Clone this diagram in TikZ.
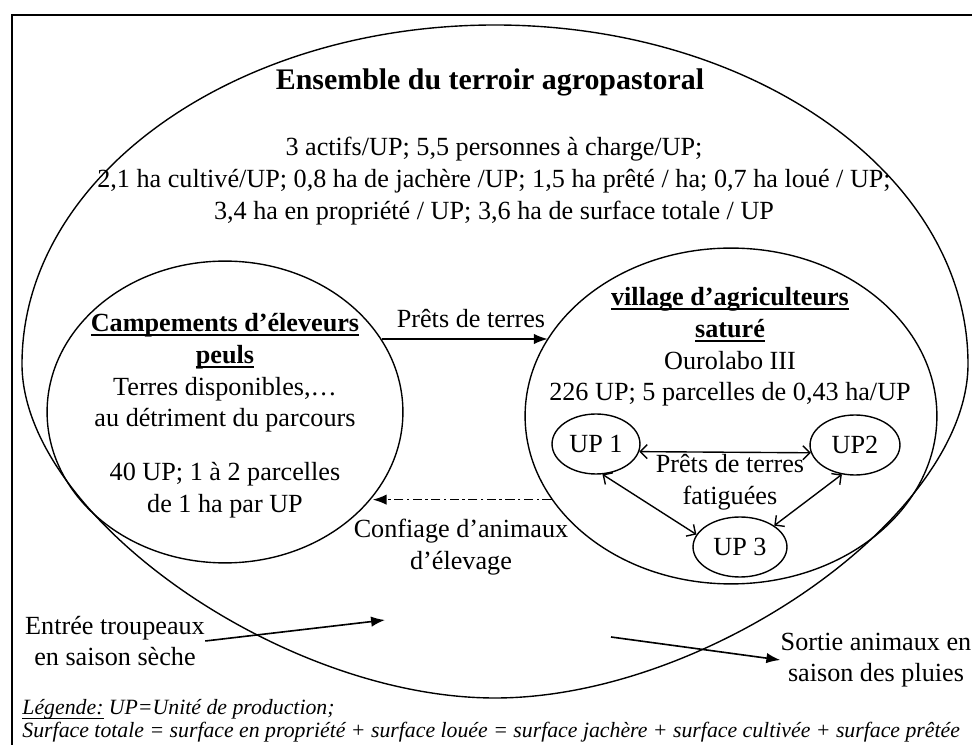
\documentclass[tikz,border=0pt]{standalone}
\usepackage{fontspec}
\setmainfont{Liberation Serif}
\usetikzlibrary{arrows.meta,shapes.geometric}
\newcommand{\souligne}[1]{\setbox0\hbox{#1}\rlap{\rule[-1.9pt]{\wd0}{0.7pt}}\box0\relax}

\tikzset{
  zone/.style={draw, ellipse, inner sep=0pt, line width=0.6pt},
  unite/.style={draw, ellipse, inner sep=0pt, minimum height=0.91cm, line width=0.6pt, font=\fontsize{11.3}{13.7}\selectfont},
  txt/.style={align=center, inner sep=0pt, font=\fontsize{11.3}{13.7}\selectfont},
  flux/.style={-{Latex[length=6pt,width=4.5pt]}, line width=0.7pt},
  pret/.style={{Straight Barb[length=3pt,width=6pt]}-{Straight Barb[length=3pt,width=6pt]}, line width=0.6pt},
}

\begin{document}
\begin{tikzpicture}[x=0.01516cm, y=-0.01516cm]
		\useasboundingbox (0,0) rectangle (972,745);
		%%%%% cadre et terroir %%%%%
		\draw[line width=0.9pt] (972,15) -- (12,15) -- (12,745);
		\draw[line width=0.6pt] (22,364) .. controls (22,515) and (282,698) .. (495,698)
			.. controls (708,698) and (968,515) .. (968,364)
			arc [start angle=0, end angle=-180, x radius=473, y radius=339];
		
		\node[txt, font=\fontsize{12.9}{15}\selectfont\bfseries] (titre) at (490,82) {Ensemble du terroir agropastoral};
		\node[txt] (chiffres) at (494,181) {3 actifs/UP; 5,5 personnes à charge/UP;\\2,1 ha cultivé/UP; 0,8 ha de jachère /UP; 1,5 ha prêté / ha; 0,7 ha loué / UP;\\3,4 ha en propriété / UP; 3,6 ha de surface totale / UP};
		
		%%%%% campements %%%%%
		\node[zone, minimum width=5.397cm, minimum height=4.578cm] (camp) at (225,412) {};
		\node[txt] (camptitre) at (225,373) {\textbf{\souligne{Campements d’éleveurs}}\\\textbf{\souligne{peuls}}\\Terres disponibles,…\\au détriment du parcours};
		\node[txt] (campdata) at (225,490) {40 UP; 1 à 2 parcelles\\de 1 ha par UP};
		
		%%%%% village %%%%%
		\node[zone, minimum width=6.246cm, minimum height=5.094cm] (vill) at (731,416) {};
		\node[txt] (villtitre) at (730,347) {\textbf{\souligne{village d’agriculteurs}}\\\textbf{\souligne{saturé}}\\Ourolabo III\\226 UP; 5 parcelles de 0,43 ha/UP};
		\node[unite, minimum width=1.334cm] (up1) at (596,444) {UP 1};
		\node[unite, minimum width=1.364cm] (up2) at (855,445) {UP2};
		\node[unite, minimum width=1.425cm] (up3) at (740,547) {UP 3};
		\node[txt] (fatigue) at (730,482) {Prêts de terres\\fatiguées};
		\draw[pret] (up1.-10) -- (up2.190);
		\draw[pret] (up1.-78) -- (up3.164);
		\draw[pret] (up2.246) -- (up3.32);
		
		%%%%% echanges %%%%%
		\node[txt] (pretlbl) at (471,319) {Prêts de terres};
		\draw[flux] (camp.25) -- (camp.25 -| vill.157);
		\node[txt] (confiage) at (461,547) {Confiage d’animaux\\d’élevage};
		\draw[flux, dash pattern=on 4pt off 1.5pt on 1pt off 1.5pt] (vill.205) -- (vill.205 -| camp.-30);
		
		%%%%% troupeaux %%%%%
		\node[txt] (entree) at (115,641) {Entrée troupeaux\\en saison sèche};
		\coordinate (entreefin) at (385,620);
		\draw[flux] (entree.east) -- (entreefin);
		\node[txt] (sortie) at (876,660) {Sortie animaux en\\saison des pluies};
		\coordinate (sortiedeb) at (611,637);
		\draw[flux] (sortiedeb) -- (sortie.west);
		
		\node[align=left, anchor=west, inner sep=0pt, font=\fontsize{9.4}{9.9}\selectfont\itshape] (legende) at (22,721) {\souligne{Légende:} UP=Unité de production;\\Surface totale = surface en propriété + surface louée = surface jachère + surface cultivée + surface prêtée};
	\end{tikzpicture}
\end{document}
